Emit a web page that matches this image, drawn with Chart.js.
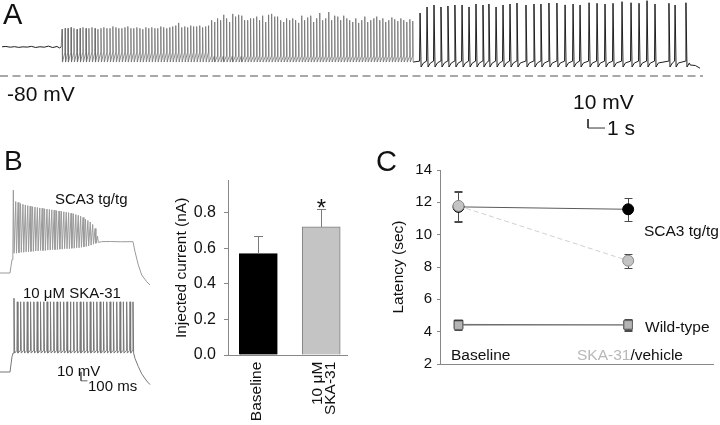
<!DOCTYPE html>
<html><head><meta charset="utf-8">
<script src="https://cdn.jsdelivr.net/npm/chart.js@4.4.1/dist/chart.umd.min.js"></script>
<style>
html,body{margin:0;padding:0;background:#fff;}
#fig{position:relative;width:720px;height:425px;overflow:hidden;font-family:'Liberation Sans',Arial,sans-serif;color:#111;}
canvas{position:absolute;}
.t{position:absolute;line-height:1;white-space:nowrap;transform:translateY(-50%);}
</style></head><body>
<div id="fig">
<canvas id="cA" width="720" height="140" style="left:0;top:0;width:720px;height:140px"></canvas>
<canvas id="cB" width="160" height="225" style="left:0;top:175px;width:160px;height:225px"></canvas>
<canvas id="cBar" width="185" height="255" style="left:170px;top:170px;width:185px;height:255px"></canvas>
<canvas id="cC" width="360" height="275" style="left:360px;top:150px;width:360px;height:275px"></canvas>

<div class="t" style="left:3px;top:13.5px;font-size:29px">A</div>
<div class="t" style="left:7px;top:93px;font-size:21px">-80 mV</div>
<div class="t" style="left:573px;top:100.8px;font-size:21px">10 mV</div>
<div class="t" style="left:607px;top:127px;font-size:21px">1 s</div>

<div class="t" style="left:4px;top:161px;font-size:28px">B</div>
<div class="t" style="left:55px;top:197.5px;font-size:15px">SCA3 tg/tg</div>
<div class="t" style="left:23px;top:291.5px;font-size:15px">10 μM SKA-31</div>
<div class="t" style="left:57px;top:369.5px;font-size:15px">10 mV</div>
<div class="t" style="left:88px;top:385px;font-size:15px">100 ms</div>

<div class="t" style="left:376px;top:160.5px;font-size:29px">C</div>
<div class="t" style="left:644px;top:231px;font-size:15.5px">SCA3 tg/tg</div>
<div class="t" style="left:645px;top:327px;font-size:15.5px">Wild-type</div>
<div class="t" style="left:451px;top:355px;font-size:15.5px">Baseline</div>
<div class="t" style="left:577px;top:355px;font-size:15.5px"><span style="color:#b8b8b8">SKA-31</span>/vehicle</div>
</div>
<script>
// ================= DATA =================
// Panel A: current-clamp trace (time in s, membrane potential in mV)
const aRestT = [0.12,0.35,0.6,0.85,1.1,1.35,1.6,1.85,2.1,2.35,2.6,2.85,3.1,3.35,3.5,3.6];
const aRestV = [-47.5,-47.2,-48,-47.4,-48.2,-47.6,-47.9,-47.1,-48.3,-47.5,-48,-46.8,-48.4,-47.2,-48.8,-47.6];
const aFastT1 = [3.65,3.83,4.00,4.18,4.35,4.53,4.71,4.88,5.06,5.23,5.41,5.59,5.76,5.94,6.11,6.29,6.47,6.64,6.82,6.99,
  7.17,7.35,7.52,7.70,7.87,8.05,8.23,8.40,8.58,8.75,8.93,9.11,9.28,9.46,9.63,9.81,9.99,10.16,10.34,10.51,
  10.69,10.87,11.04,11.22,11.39,11.57,11.75,11.92,12.10,12.27];
const aFastPeak1 = [-28,-27,-27,-26,-27,-28,-27,-26,-27,-27,-26,-27,-28,-27,-26,-27,-27,-25,-26,-27,
  -27,-26,-25,-27,-27,-26,-27,-28,-26,-27,-26,-27,-27,-25,-26,-27,-26,-25,-24,-21,
  -26,-25,-26,-24,-25,-25,-24,-26,-25,-24];
const aFastT2 = [12.45,12.62,12.80,12.98,13.15,13.33,13.51,13.68,13.86,14.04,14.21,14.39,14.57,14.74,14.92,15.10,15.27,15.45,15.63,15.80,
  15.98,16.16,16.33,16.51,16.69,16.86,17.04,17.22,17.39,17.57,17.75,17.92,18.10,18.28,18.45,18.63,18.81,18.98,19.16,19.34,
  19.51,19.69,19.87,20.04,20.22,20.40,20.57,20.75,20.93,21.10,21.28,21.46,21.63,21.81,21.99,22.16,22.34,22.52,22.69,22.87,
  23.05,23.22,23.40,23.58,23.75,23.93,24.11,24.28];
const aFastPeak2 = [-18,-20,-16,-18,-12,-16,-20,-11,-14,-12,-13,-18,-18,-16,-16,-14,-18,-13,-20,-12,
  -11,-14,-14,-18,-20,-16,-18,-16,-18,-21,-13,-18,-15,-13,-20,-16,-10,-18,-16,-9,
  -18,-13,-14,-18,-13,-16,-18,-20,-16,-21,-18,-14,-20,-18,-16,-14,-18,-16,-20,-18,
  -15,-17,-19,-16,-18,-20,-17,-19];
const aFastBaseV = [-54, -58];      // inter-spike level, early / late part
const aFastTroughV = -64.5;
const aSlowT = [24.71,25.12,25.53,25.94,26.35,26.76,27.18,27.59,28.00,28.41,28.76,29.18,29.59,30.00,30.41,30.94,31.41,31.82,32.29,32.76,
  33.24,33.71,34.12,34.65,35.12,35.59,36.06,36.59,37.12,37.59,38.06,38.53,39.35,39.71,40.35];
const aSlowPeak = [-10,-3.3,-1.1,-3.3,-2.2,-1.1,-1.1,-3.3,0,-1.1,0,-3.3,-1.1,0,1.1,-1.1,0,0,1.1,1.1,
  -1,0,-1.1,1.4,0.8,0,0.8,2.6,1.4,0.8,3.7,0,0.8,-1.1,1.4];
const aSlowTroughV = -70, aSlowAhpV = -65.5, aSlowBaseV = -63.5;
const aEndT = [40.6, 40.9, 41.18];
const aEndV = [-67.8, -68.3, -71.4];
const aRefV = -80;                  // dashed reference level
const aTraceEnd = 41.35;
const aScale = {s: 1, mV: 10};

// Panel B traces (time in ms, potential in mV)
const bSca3RestT = [0,154,170,185,198];
const bSca3RestV = [-70,-70,-62,-55,-51];
const bSca3SpikeT = [205,242,279,316,353,390,427,464,501,538,575,612,649,686,723,760,797,834,871,908,
  945,982,1019,1056,1093,1130,1167,1204,1241,1278,1315,1352,1389,1426,1463,1500];
const bSca3PeakV = [22,9.4,8.3,7.2,6.3,5.6,4.9,4.2,3.7,3.3,2.8,2.3,1.9,1.4,1.1,0.7,0.2,-0.2,-0.7,-1.1,
  -1.6,-2,-2.4,-2.9,-3.6,-4.2,-5,-5.9,-6.9,-8.3,-10,-11.7,-13.3,-16.1,-20.6,-28.9];
const bSca3TroughV = [-48,-48,-47.5,-47,-47,-46.5,-46.5,-46,-46,-45.5,-45.5,-45,-45,-45,-44.5,-44.5,-44,-44,-44,-43.5,
  -43.5,-43,-43,-43,-42.5,-42.5,-42,-42,-41.5,-41,-40.5,-40,-39,-38,-37,-36];
const bSca3TailT = [1515,1560,1700,1850,2046,2077,2128,2180,2257,2308];
const bSca3TailV = [-36,-35.2,-35,-35.3,-35.2,-46.3,-61.1,-72.2,-79.7,-83.3];
const bSkaRestT = [0,154,170,185,200];
const bSkaRestV = [-70,-70,-61,-53,-49];
const bSkaSpikeT = [215,266,317,368,419,470,521,572,623,674,725,776,827,878,929,980,1031,1082,1133,1184,
  1235,1286,1337,1388,1439,1490,1541,1592,1643,1694,1745,1796,1847,1898,1949,2000,2046];
const bSkaPeakV = [12,8,8,8,8,8,8,8,8,8,8,8,8,8,8,8,8,8,8,8,8,8,8,8,8,8,8,8,8,8,8,8,8,8,8,8,8];
const bSkaBaseV = -46, bSkaTroughV = -49;
const bSkaTailT = [2077,2128,2180,2257,2308];
const bSkaTailV = [-55,-64,-72,-80,-84];
const bScale = {ms: 100, mV: 10};

// Panel B bar chart
const barCategories = ['Baseline', ['10 μM', 'SKA-31']];
const barMeans = [0.57, 0.72];
const barErrors = [0.10, 0.10];
const barYTicks = [0.0, 0.2, 0.4, 0.6, 0.8];
const barSignificant = [false, true];

// Panel C latency
const cConditions = ['Baseline', 'SKA-31/vehicle'];
const sca3SkaMeans = [11.78, 8.39],  sca3SkaErr = [0.92, 0.43];
const sca3VehMeans = [11.72, 11.57], sca3VehErr = [0.95, 0.72];
const wtSkaMeans   = [4.40, 4.42],   wtSkaErr   = [0.30, 0.36];
const wtVehMeans   = [4.45, 4.42],   wtVehErr   = [0.28, 0.30];
const cYTicks = [2, 4, 6, 8, 10, 12, 14];

// ================= BUILD =================
const FONT = "'Liberation Sans', Arial, sans-serif";
Chart.defaults.font.family = FONT;
Chart.defaults.color = '#111';
const base = {responsive:false, animation:false, devicePixelRatio:1, events:[],
  plugins:{legend:{display:false}, tooltip:{enabled:false}}};

function zipPts(T, V){ return T.map((t,i)=>({x:t, y:V[i]})); }
function pushSpikes(pts, T, P, pre, trough, dPre, dTr, mid, skipFirstPre){
  for (let i=0;i<T.length;i++){
    const t=T[i];
    const tr = Array.isArray(trough) ? trough[i] : trough;
    if (pre!==null && !(skipFirstPre && i===0)) pts.push({x:t-dPre, y:pre});
    pts.push({x:t, y:P[i]});
    pts.push({x:t+dTr, y:tr});
    if (mid) pts.push({x:t+mid.dt, y:mid.v});
  }
}
const traceDs = (data, color, w, extra) => Object.assign({data, borderColor:color, borderWidth:w, pointRadius:0,
  tension:0, fill:false, clip:false, borderJoinStyle:'round', parsing:false}, extra||{});

// ---- Panel A ----
const aFastPts = zipPts(aRestT, aRestV);
pushSpikes(aFastPts, aFastT1, aFastPeak1, aFastBaseV[0], aFastTroughV, 0.015, 0.025, null, true);
pushSpikes(aFastPts, aFastT2, aFastPeak2, aFastBaseV[1], aFastTroughV, 0.015, 0.025, null, false);
const aSlowPts = [aFastPts[aFastPts.length-1]];
pushSpikes(aSlowPts, aSlowT, aSlowPeak, aSlowBaseV, aSlowTroughV, 0.03, 0.06, {dt:0.2, v:aSlowAhpV}, false);
aEndT.forEach((t,i)=>aSlowPts.push({x:t, y:aEndV[i]}));
const aBarX = 34.59, aBarY = -127.8;
new Chart(document.getElementById('cA'), {type:'line',
  data:{datasets:[
    traceDs(aFastPts.slice(0, aRestT.length), '#1e1e1e', 1),
    traceDs(aFastPts.slice(aRestT.length-1), '#6e6e6e', 0.8),
    traceDs(aSlowPts, '#1e1e1e', 1),
    traceDs([{x:0,y:aRefV},{x:aTraceEnd,y:aRefV}], '#a8a8a8', 2, {borderDash:[8,4.5]}),
    traceDs([{x:aBarX,y:aBarY},{x:aBarX,y:aBarY-aScale.mV},{x:aBarX+aScale.s,y:aBarY-aScale.mV}], '#333', 1, {borderJoinStyle:'miter'})
  ]},
  options:Object.assign({}, base, {layout:{padding:0},
    scales:{x:{type:'linear', display:false, min:0, max:720/17},
            y:{type:'linear', display:false, min:-80-64/0.9, max:-80+76/0.9}}})
});

// ---- Panel B traces ----
const bSca3 = zipPts(bSca3RestT, bSca3RestV);
pushSpikes(bSca3, bSca3SpikeT, bSca3PeakV, null, bSca3TroughV, 0, 12, null, false);
bSca3TailT.forEach((t,i)=>bSca3.push({x:t, y:bSca3TailV[i]}));
const bSka = zipPts(bSkaRestT, bSkaRestV);
pushSpikes(bSka, bSkaSpikeT, bSkaPeakV, bSkaBaseV, bSkaTroughV, 5, 10, null, true);
bSkaTailT.forEach((t,i)=>bSka.push({x:t, y:bSkaTailV[i]}));
const bBarX = 1246, bBarY = -69.8;
new Chart(document.getElementById('cB'), {type:'line',
  data:{datasets:[
    traceDs(bSca3, '#9a9a9a', 1, {yAxisID:'yTop'}),
    traceDs(bSka, '#777', 1, {yAxisID:'yBot'}),
    traceDs([{x:bBarX,y:bBarY},{x:bBarX,y:bBarY-bScale.mV},{x:bBarX+bScale.ms,y:bBarY-bScale.mV}], '#666', 1, {yAxisID:'yBot', borderJoinStyle:'miter'})
  ]},
  options:Object.assign({}, base, {layout:{padding:0},
    scales:{x:{type:'linear', display:false, min:0, max:160/0.065},
            yTop:{type:'linear', display:false, min:-70-127/0.9, max:-70+98/0.9},
            yBot:{type:'linear', display:false, min:-70-28/0.9, max:-70+197/0.9}}})
});

// ---- Panel B bar chart ----
const barDecorPlugin = {id:'barDecor', afterDatasetsDraw(chart){
  const {ctx, scales:{x, y}, chartArea} = chart;
  ctx.save(); ctx.strokeStyle = '#7a7a7a'; ctx.lineWidth = 1;
  barMeans.forEach((m,i)=>{
    const px = Math.round(x.getPixelForValue(i)) + 0.5;
    const y0 = y.getPixelForValue(m), y1 = Math.round(y.getPixelForValue(m + barErrors[i])) + 0.5;
    ctx.beginPath(); ctx.moveTo(px, y0); ctx.lineTo(px, y1);
    ctx.moveTo(px-4.5, y1); ctx.lineTo(px+4.5, y1); ctx.stroke();
    if (barSignificant[i]) {
      ctx.fillStyle = '#111'; ctx.font = '24px ' + FONT; ctx.textAlign = 'center'; ctx.textBaseline = 'alphabetic';
      ctx.fillText('*', px, y1 + 6.5);
    }
  });
  // rotated category labels
  ctx.fillStyle = '#111'; ctx.font = '15.5px ' + FONT; ctx.textAlign = 'right'; ctx.textBaseline = 'middle';
  barCategories.forEach((c,i)=>{
    const lines = Array.isArray(c) ? c : [c];
    const offs = lines.length === 1 ? [-1.3] : [-3.7, 9.8];
    const cx = x.getPixelForValue(i);
    lines.forEach((ln,j)=>{
      ctx.save(); ctx.translate(cx + offs[j], chartArea.bottom + 6.7); ctx.rotate(-Math.PI/2);
      ctx.fillText(ln, 0, 0); ctx.restore();
    });
  });
  ctx.restore();
}};
new Chart(document.getElementById('cBar'), {type:'bar',
  data:{datasets:[{data:barMeans.map((v,i)=>({x:i, y:v})), backgroundColor:['#000','#c4c4c4'],
    borderColor:['#000','#808080'], borderWidth:1, barThickness:38}]},
  options:Object.assign({}, base, {layout:{padding:{left:0, top:10.7, right:8, bottom:0}},
    scales:{
      x:{type:'linear', min:-0.482, max:1.41, offset:false,
         afterBuildTicks:s=>{ s.ticks = []; },
         ticks:{display:false}, grid:{display:false}, border:{display:true, color:'#888'},
         afterFit:s=>{ s.height = 70; s.paddingLeft = 0; s.paddingRight = 0; }},
      y:{type:'linear', min:0, max:0.98,
         afterBuildTicks:s=>{ s.ticks = barYTicks.map(v=>({value:v})); },
         ticks:{callback:v=>v.toFixed(1), padding:8, font:{size:16}, color:'#111'},
         grid:{drawOnChartArea:false, drawTicks:true, tickLength:4, color:'#888'}, border:{display:true, color:'#888'},
         title:{display:true, text:'Injected current (nA)', font:{size:15.5}, color:'#111', padding:{top:2.7, bottom:0}},
         afterFit:s=>{ s.width = 58; s.paddingTop = 0; s.paddingBottom = 0; }}
    }}),
  plugins:[barDecorPlugin]
});

// ---- Panel C ----
const cSets = [
  {means:sca3SkaMeans, err:sca3SkaErr},
  {means:wtSkaMeans, err:wtSkaErr},
  {means:sca3VehMeans, err:sca3VehErr},
  {means:wtVehMeans, err:wtVehErr}
];
const cErrPlugin = {id:'cErr', beforeDatasetsDraw(chart){
  const {ctx, scales:{x, y}} = chart;
  ctx.save(); ctx.strokeStyle = '#4a4a4a'; ctx.lineWidth = 1;
  cSets.forEach(s=>s.means.forEach((m,i)=>{
    const px = Math.round(x.getPixelForValue(i)) + 0.5;
    const yt = Math.round(y.getPixelForValue(m + s.err[i])) + 0.5;
    const yb = Math.round(y.getPixelForValue(m - s.err[i])) + 0.5;
    ctx.beginPath(); ctx.moveTo(px, yt); ctx.lineTo(px, yb);
    ctx.moveTo(px-4, yt); ctx.lineTo(px+4, yt); ctx.moveTo(px-4, yb); ctx.lineTo(px+4, yb); ctx.stroke();
  }));
  ctx.restore();
}};
const pt = (means) => means.map((v,i)=>({x:i, y:v}));
new Chart(document.getElementById('cC'), {type:'line',
  data:{labels:cConditions, datasets:[
    {data:pt(sca3SkaMeans), borderColor:'#d0d0d0', borderWidth:1, borderDash:[5,3], pointStyle:'circle', pointRadius:5.5,
     pointBackgroundColor:'#c4c4c4', pointBorderColor:'#8a8a8a', pointBorderWidth:1, tension:0, clip:false},
    {data:pt(wtSkaMeans), borderColor:'#8a8a8a', borderWidth:1, pointStyle:'rect', pointRadius:6,
     pointBackgroundColor:'#b4b4b4', pointBorderColor:'#6a6a6a', pointBorderWidth:1, tension:0, clip:false},
    {data:pt(sca3VehMeans), borderColor:'#5a5a5a', borderWidth:1, pointStyle:'circle', pointRadius:5.5,
     pointBackgroundColor:'#000', pointBorderColor:'#000', pointBorderWidth:1, tension:0, clip:false},
    {data:pt(wtVehMeans), borderColor:'#5a5a5a', borderWidth:1, pointStyle:'rect', pointRadius:6,
     pointBackgroundColor:'#000', pointBorderColor:'#000', pointBorderWidth:1, tension:0, clip:false}
  ]},
  options:Object.assign({}, base, {layout:{padding:{left:25.7, top:20, right:0, bottom:0}},
    scales:{
      x:{type:'linear', min:-0.109, max:1.5, afterBuildTicks:s=>{ s.ticks = []; },
         ticks:{display:false}, grid:{display:false}, border:{display:true, color:'#888'},
         afterFit:s=>{ s.height = 61; s.paddingLeft = 0; s.paddingRight = 0; }},
      y:{type:'linear', min:2, max:14,
         afterBuildTicks:s=>{ s.ticks = cYTicks.map(v=>({value:v})); },
         ticks:{padding:5, font:{size:15}, color:'#111'},
         grid:{drawOnChartArea:false, drawTicks:true, tickLength:3, color:'#888'}, border:{display:true, color:'#888'},
         title:{display:true, text:'Latency (sec)', font:{size:15.5}, color:'#111'},
         afterFit:s=>{ s.width = 54.3; s.paddingTop = 0; s.paddingBottom = 0; }}
    }}),
  plugins:[cErrPlugin]
});
</script>
</body></html>
